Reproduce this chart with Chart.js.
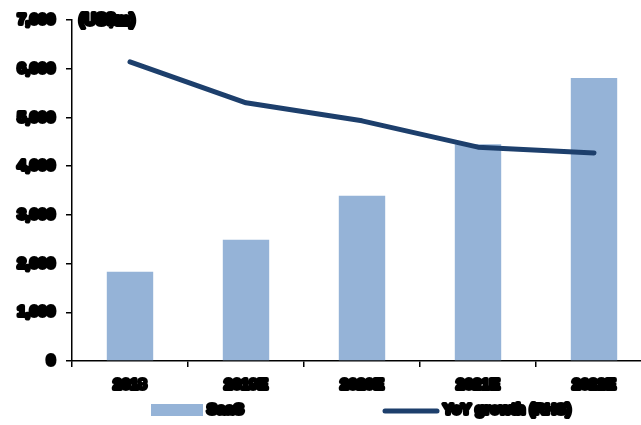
<!DOCTYPE html>
<html>
<head>
<meta charset="utf-8">
<script src="https://cdn.jsdelivr.net/npm/chart.js@4/dist/chart.umd.min.js"></script>
<style>
    html, body { margin: 0; padding: 0; background: #fff; overflow: hidden; }
    #wrap { width: 660px; height: 425px; }
</style>
</head>
<body>
<div id="wrap"><canvas id="saasChart"></canvas></div>
<script>
// categories and series
const years = ['2018', '2019E', '2020E', '2021E', '2022E'];
const saasRevenue = [1830, 2490, 3390, 4450, 5810];   // US$m, left axis
const yoyGrowth = [61.4, 53.0, 49.3, 43.9, 42.7];     // %, right axis (not shown)
const yTicks = [0, 1000, 2000, 3000, 4000, 5000, 6000, 7000];

const barColor = '#95b3d7';
const lineColor = '#1d3f6c';
const labelFont = 'bold 15px "Liberation Sans", Arial, sans-serif';
const heavy = 4;

function heavyText(ctx, text, x, y) {
    ctx.strokeText(text, x, y);
    ctx.fillText(text, x, y);
}

// round joins so the stroked tick labels don't grow spikes
const roundJoins = {
    id: 'roundJoins',
    beforeDraw(chart) {
        chart.ctx.lineJoin = 'round';
        chart.ctx.miterLimit = 2;
    }
};

// unit label and legend drawn by hand so spacing can be controlled
const extras = {
    id: 'extras',
    afterDraw(chart) {
        const ctx = chart.ctx;
        const area = chart.chartArea;
        const bars = chart.data.datasets.find(d => d.type === 'bar');
        const line = chart.data.datasets.find(d => d.type === 'line');
        ctx.save();
        ctx.font = 'bold 16px "Liberation Sans", Arial, sans-serif';
        ctx.fillStyle = '#000';
        ctx.strokeStyle = '#000';
        ctx.lineWidth = heavy;
        ctx.lineJoin = 'round';
        ctx.textBaseline = 'middle';
        ctx.textAlign = 'left';
        heavyText(ctx, '(US$m)', area.left + 7, area.top + 1);

        // legend
        const ly = 410;
        ctx.font = labelFont;
        ctx.fillStyle = bars.backgroundColor;
        ctx.fillRect(151, ly - 6, 52, 12);
        ctx.fillStyle = '#000';
        heavyText(ctx, bars.label, 207, ly);

        ctx.strokeStyle = line.borderColor;
        ctx.lineWidth = 5;
        ctx.lineCap = 'round';
        ctx.beginPath();
        ctx.moveTo(385, ly + 1);
        ctx.lineTo(437, ly + 1);
        ctx.stroke();
        ctx.strokeStyle = '#000';
        ctx.lineWidth = heavy;
        heavyText(ctx, line.label, 443, ly);
        ctx.restore();
    }
};

const tickFont = { family: '"Liberation Sans", Arial, sans-serif', size: 15, weight: 'bold' };

const ctx = document.getElementById('saasChart').getContext('2d');
const saasChart = new Chart(ctx, {
    data: {
        labels: years,
        datasets: [{
            type: 'line',
            label: 'YoY growth (RHS)',
            data: yoyGrowth,
            yAxisID: 'y1',
            borderColor: lineColor,
            borderWidth: 5,
            borderCapStyle: 'round',
            borderJoinStyle: 'round',
            pointRadius: 0,
            tension: 0,
            order: 0
        }, {
            type: 'bar',
            label: 'SaaS',
            data: saasRevenue,
            yAxisID: 'y',
            backgroundColor: barColor,
            barPercentage: 0.4,
            categoryPercentage: 1,
            order: 1
        }]
    },
    options: {
        responsive: true,
        maintainAspectRatio: false,
        animation: false,
        layout: {
            padding: { top: 11, right: 8, bottom: 31, left: 0 }
        },
        plugins: {
            legend: { display: false },
            tooltip: { enabled: false }
        },
        scales: {
            x: {
                offset: true,
                grid: {
                    display: true,
                    offset: true,
                    drawOnChartArea: false,
                    drawTicks: true,
                    tickLength: 6,
                    color: '#000',
                    lineWidth: 1.5
                },
                border: { color: '#000', width: 1.5 },
                ticks: {
                    color: '#000',
                    font: tickFont,
                    textStrokeColor: '#000',
                    textStrokeWidth: heavy,
                    padding: 9,
                    maxRotation: 0
                },
                afterFit(scale) { scale.height = 33; }
            },
            y: {
                position: 'left',
                min: 0,
                max: 7000,
                afterBuildTicks(scale) {
                    scale.ticks = yTicks.map(v => ({ value: v }));
                },
                grid: {
                    display: true,
                    drawOnChartArea: false,
                    tickLength: 6,
                    color: '#000',
                    lineWidth: 1.5
                },
                border: { color: '#000', width: 1.5 },
                ticks: {
                    color: '#000',
                    font: tickFont,
                    textStrokeColor: '#000',
                    textStrokeWidth: heavy,
                    padding: 11,
                    callback: v => v.toLocaleString('en-US')
                },
                afterFit(scale) { scale.width = 72; }
            },
            y1: {
                display: false,
                min: 0,
                max: 70
            }
        }
    },
    plugins: [roundJoins, extras]
});
</script>
</body>
</html>
